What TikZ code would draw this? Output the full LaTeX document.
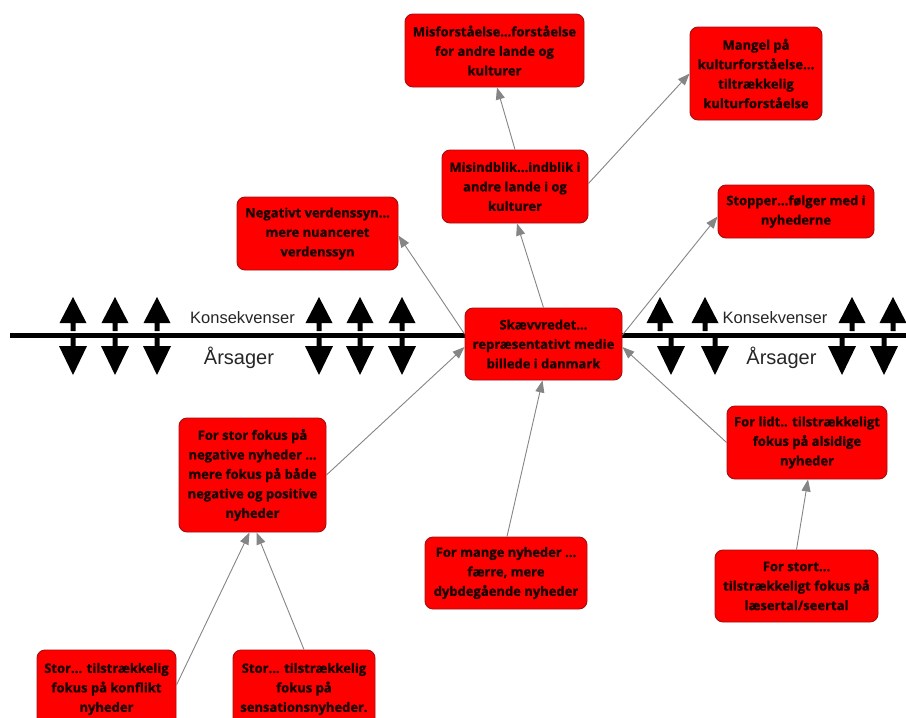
\documentclass[tikz,border=0pt]{standalone}
\usepackage{fontspec}
\setmainfont{Open Sans}[BoldFeatures={FakeBold=1.2}]
\newfontfamily\lblfont{Liberation Sans}
\usetikzlibrary{arrows.meta,calc}
\definecolor{boxred}{HTML}{FF0000}
\definecolor{boxedge}{HTML}{A01010}
\definecolor{conn}{HTML}{858585}
\definecolor{txt}{HTML}{1A0000}
\tikzset{
  card/.style={draw=boxedge, line width=0.9pt, fill=boxred, rounded corners=8pt,
    align=center, font=\bfseries\fontsize{13}{19.5}\selectfont, text=txt, inner sep=0pt},
  link/.style={draw=conn, line width=0.9pt, -{Triangle[length=12pt,width=9pt]}},
  axislabel/.style={font=\lblfont, text=black!85, inner sep=0pt},
  pics/upmark/.style={code={
    \fill (0,297) -- (13.5,323) -- (2.5,323) -- (2.5,331) -- (-2.5,331) -- (-2.5,323) -- (-13.5,323) -- cycle;}},
  pics/downmark/.style={code={
    \fill (-2.5,338) -- (2.5,338) -- (2.5,346) -- (14,346) -- (0,375) -- (-14,346) -- (-2.5,346) -- cycle;}}
}
\begin{document}
\begin{tikzpicture}[x=1pt,y=-1pt]
\useasboundingbox (0,0) rectangle (906,718);
\clip (0,0) rectangle (906,718);
\fill[white] (0,0) rectangle (906,718);

% main axis
\draw[line width=5pt] (10,335) -- (910,335);
\foreach \x in {73,115,157,319,360,402,660,705,852,893} \pic at (\x,0) {upmark};
\foreach \x in {73,115,157,319,360,402,671,715,842,884} \pic at (\x,0) {downmark};

\node[axislabel, font=\lblfont\fontsize{16.5}{18}\selectfont] (kl) at (242.5,318) {Konsekvenser};
\node[axislabel, font=\lblfont\fontsize{20}{22}\selectfont] (al) at (239,358) {Årsager};
\node[axislabel, font=\lblfont\fontsize{16.5}{18}\selectfont] (kr) at (775,318) {Konsekvenser};
\node[axislabel, font=\lblfont\fontsize{20}{22}\selectfont] (ar) at (781.5,358) {Årsager};

% boxes
\node[card, minimum width=179pt, minimum height=73pt] (mis1) at (494.5,50.5)
  {Misforståelse...forståelse\\for andre lande og\\kulturer};
\node[card, minimum width=132pt, minimum height=93pt] (mangel) at (756,73.5)
  {Mangel på\\kulturforståelse...\\tiltrækkelig\\kulturforståelse};
\node[card, minimum width=156pt, minimum height=53pt] (stop) at (796,211.5)
  {Stopper...følger med i\\nyhederne};
\node[card, minimum width=146pt, minimum height=73pt] (misind) at (515,186.5)
  {Misindblik...indblik i\\andre lande i og\\kulturer};
\node[card, minimum width=161pt, minimum height=73pt] (neg) at (317.5,233.5)
  {Negativt verdenssyn...\\mere nuanceret\\verdenssyn};
\node[card, minimum width=157pt, minimum height=72pt] (cen) at (543.5,344)
  {Skævvredet...\\repræsentativt medie\\billede i danmark};
\node[card, minimum width=147pt, minimum height=114pt] (fokus) at (252.5,475)
  {For stor fokus på\\negative nyheder ...\\mere fokus på både\\negative og positive\\nyheder};
\node[card, minimum width=162pt, minimum height=72pt] (mange) at (506,573)
  {For mange nyheder ...\\færre, mere\\dybdegående nyheder};
\node[card, minimum width=160pt, minimum height=73pt] (lidt) at (807,442.5)
  {For lidt.. tilstrækkeligt\\fokus på alsidige\\nyheder};
\node[card, minimum width=163pt, minimum height=72pt] (stort) at (796.5,586)
  {For stort...\\tilstrækkeligt fokus på\\læsertal/seertal};
\node[card, minimum width=139pt, minimum height=78pt] (konf) at (106.5,689)
  {Stor... tilstrækkelig\\fokus på konflikt\\nyheder};
\node[card, minimum width=142pt, minimum height=78pt] (sens) at (304,689)
  {Stor... tilstrækkelig\\fokus på\\sensationsnyheder.};

% connectors
\draw[link] (cen.north) -- ([xshift=2pt]misind.south);
\draw[link] (misind.north) -- ([xshift=2.5pt]mis1.south);
\draw[link] ([yshift=3pt]misind.east) -- (mangel.west);
\draw[link] ([yshift=10pt]cen.west) -- ([yshift=-2pt]neg.east);
\draw[link] ([yshift=9pt]cen.east) -- ([yshift=-5pt]stop.west);
\draw[link] (fokus.east) -- ([yshift=-3pt]cen.west);
\draw[link] ([xshift=1pt]mange.north) -- ([xshift=-1pt]cen.south);
\draw[link] (lidt.west) -- ([yshift=-3pt]cen.east);
\draw[link] (stort.north) -- ([xshift=1pt]lidt.south);
\draw[link] ([yshift=4pt]konf.east) -- ([xshift=-3pt]fokus.south);
\draw[link] (sens.north) -- ([xshift=4pt]fokus.south);
\end{tikzpicture}
\end{document}
